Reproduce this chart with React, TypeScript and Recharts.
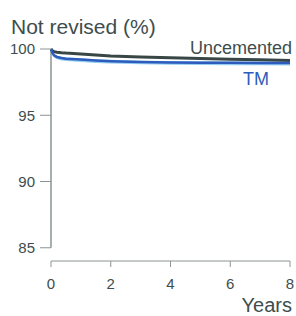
import { ComposedChart, Line, Area, XAxis, YAxis, ReferenceLine } from 'recharts'

const years = [0, 0.05, 0.1, 0.2, 0.35, 0.5, 1, 1.5, 2, 3, 4, 5, 6, 7, 8]
const uncemented = [100, 99.86, 99.8, 99.76, 99.72, 99.69, 99.62, 99.55, 99.48, 99.4, 99.34, 99.28, 99.23, 99.18, 99.13]
const tm = [100, 99.7, 99.52, 99.4, 99.32, 99.27, 99.2, 99.13, 99.08, 99.02, 98.99, 98.97, 98.96, 98.95, 98.94]
const tmLow = [100, 99.55, 99.35, 99.22, 99.14, 99.09, 99.02, 98.95, 98.9, 98.84, 98.81, 98.79, 98.78, 98.77, 98.76]
const tmHigh = [100, 99.78, 99.62, 99.5, 99.42, 99.37, 99.3, 99.23, 99.18, 99.12, 99.09, 99.07, 99.06, 99.05, 99.04]

const xTicks = [0, 2, 4, 6, 8]
const yTicks = [85, 90, 95, 100]

const data = years.map((t, i) => ({
  t,
  unc: uncemented[i],
  tm: tm[i],
  ci: [tmLow[i], tmHigh[i]],
}))

const textCol = '#3e4d4d'
const axisCol = '#8c9494'
const font = '"Liberation Sans", Arial, sans-serif'

export default function App() {
  return (
    <div style={{ position: 'absolute', left: 0, top: 0, width: 296, height: 316, background: '#fff', fontFamily: font }}>
      <ComposedChart width={296} height={316} data={data} margin={{ top: 49, right: 6, left: 0, bottom: 25 }}>
        <XAxis
          dataKey="t"
          type="number"
          domain={[0, 8]}
          ticks={xTicks}
          stroke={axisCol}
          tickSize={6}
          tickMargin={11}
          height={30}
          tick={{ fill: textCol, fontSize: 15, fontFamily: font }}
        />
        <YAxis
          type="number"
          domain={[84, 100]}
          ticks={yTicks}
          axisLine={false}
          stroke={axisCol}
          tickSize={11}
          tickMargin={5}
          width={51}
          tick={{ fill: textCol, fontSize: 15, fontFamily: font }}
        />
        <ReferenceLine segment={[{ x: 0, y: 85 }, { x: 0, y: 100 }]} stroke={axisCol} strokeWidth={1.5} />
        <Area dataKey="ci" stroke="none" fill="#93cdf0" fillOpacity={1} isAnimationActive={false} />
        <Line dataKey="unc" stroke="#394646" strokeWidth={3} dot={false} isAnimationActive={false} />
        <Line dataKey="tm" stroke="#2d5cbd" strokeWidth={2.5} dot={false} isAnimationActive={false} />
      </ComposedChart>
      <div style={{ position: 'absolute', left: 11, top: 15, fontSize: 21, color: textCol, whiteSpace: 'nowrap' }}>Not revised (%)</div>
      <div style={{ position: 'absolute', right: 4, top: 38, fontSize: 18, color: textCol, whiteSpace: 'nowrap' }}>Uncemented</div>
      <div style={{ position: 'absolute', left: 243, top: 69, fontSize: 18, color: '#2d5cbd', whiteSpace: 'nowrap' }}>TM</div>
      <div style={{ position: 'absolute', right: 4, top: 294, fontSize: 20, lineHeight: '22px', color: textCol, whiteSpace: 'nowrap' }}>Years</div>
    </div>
  )
}
